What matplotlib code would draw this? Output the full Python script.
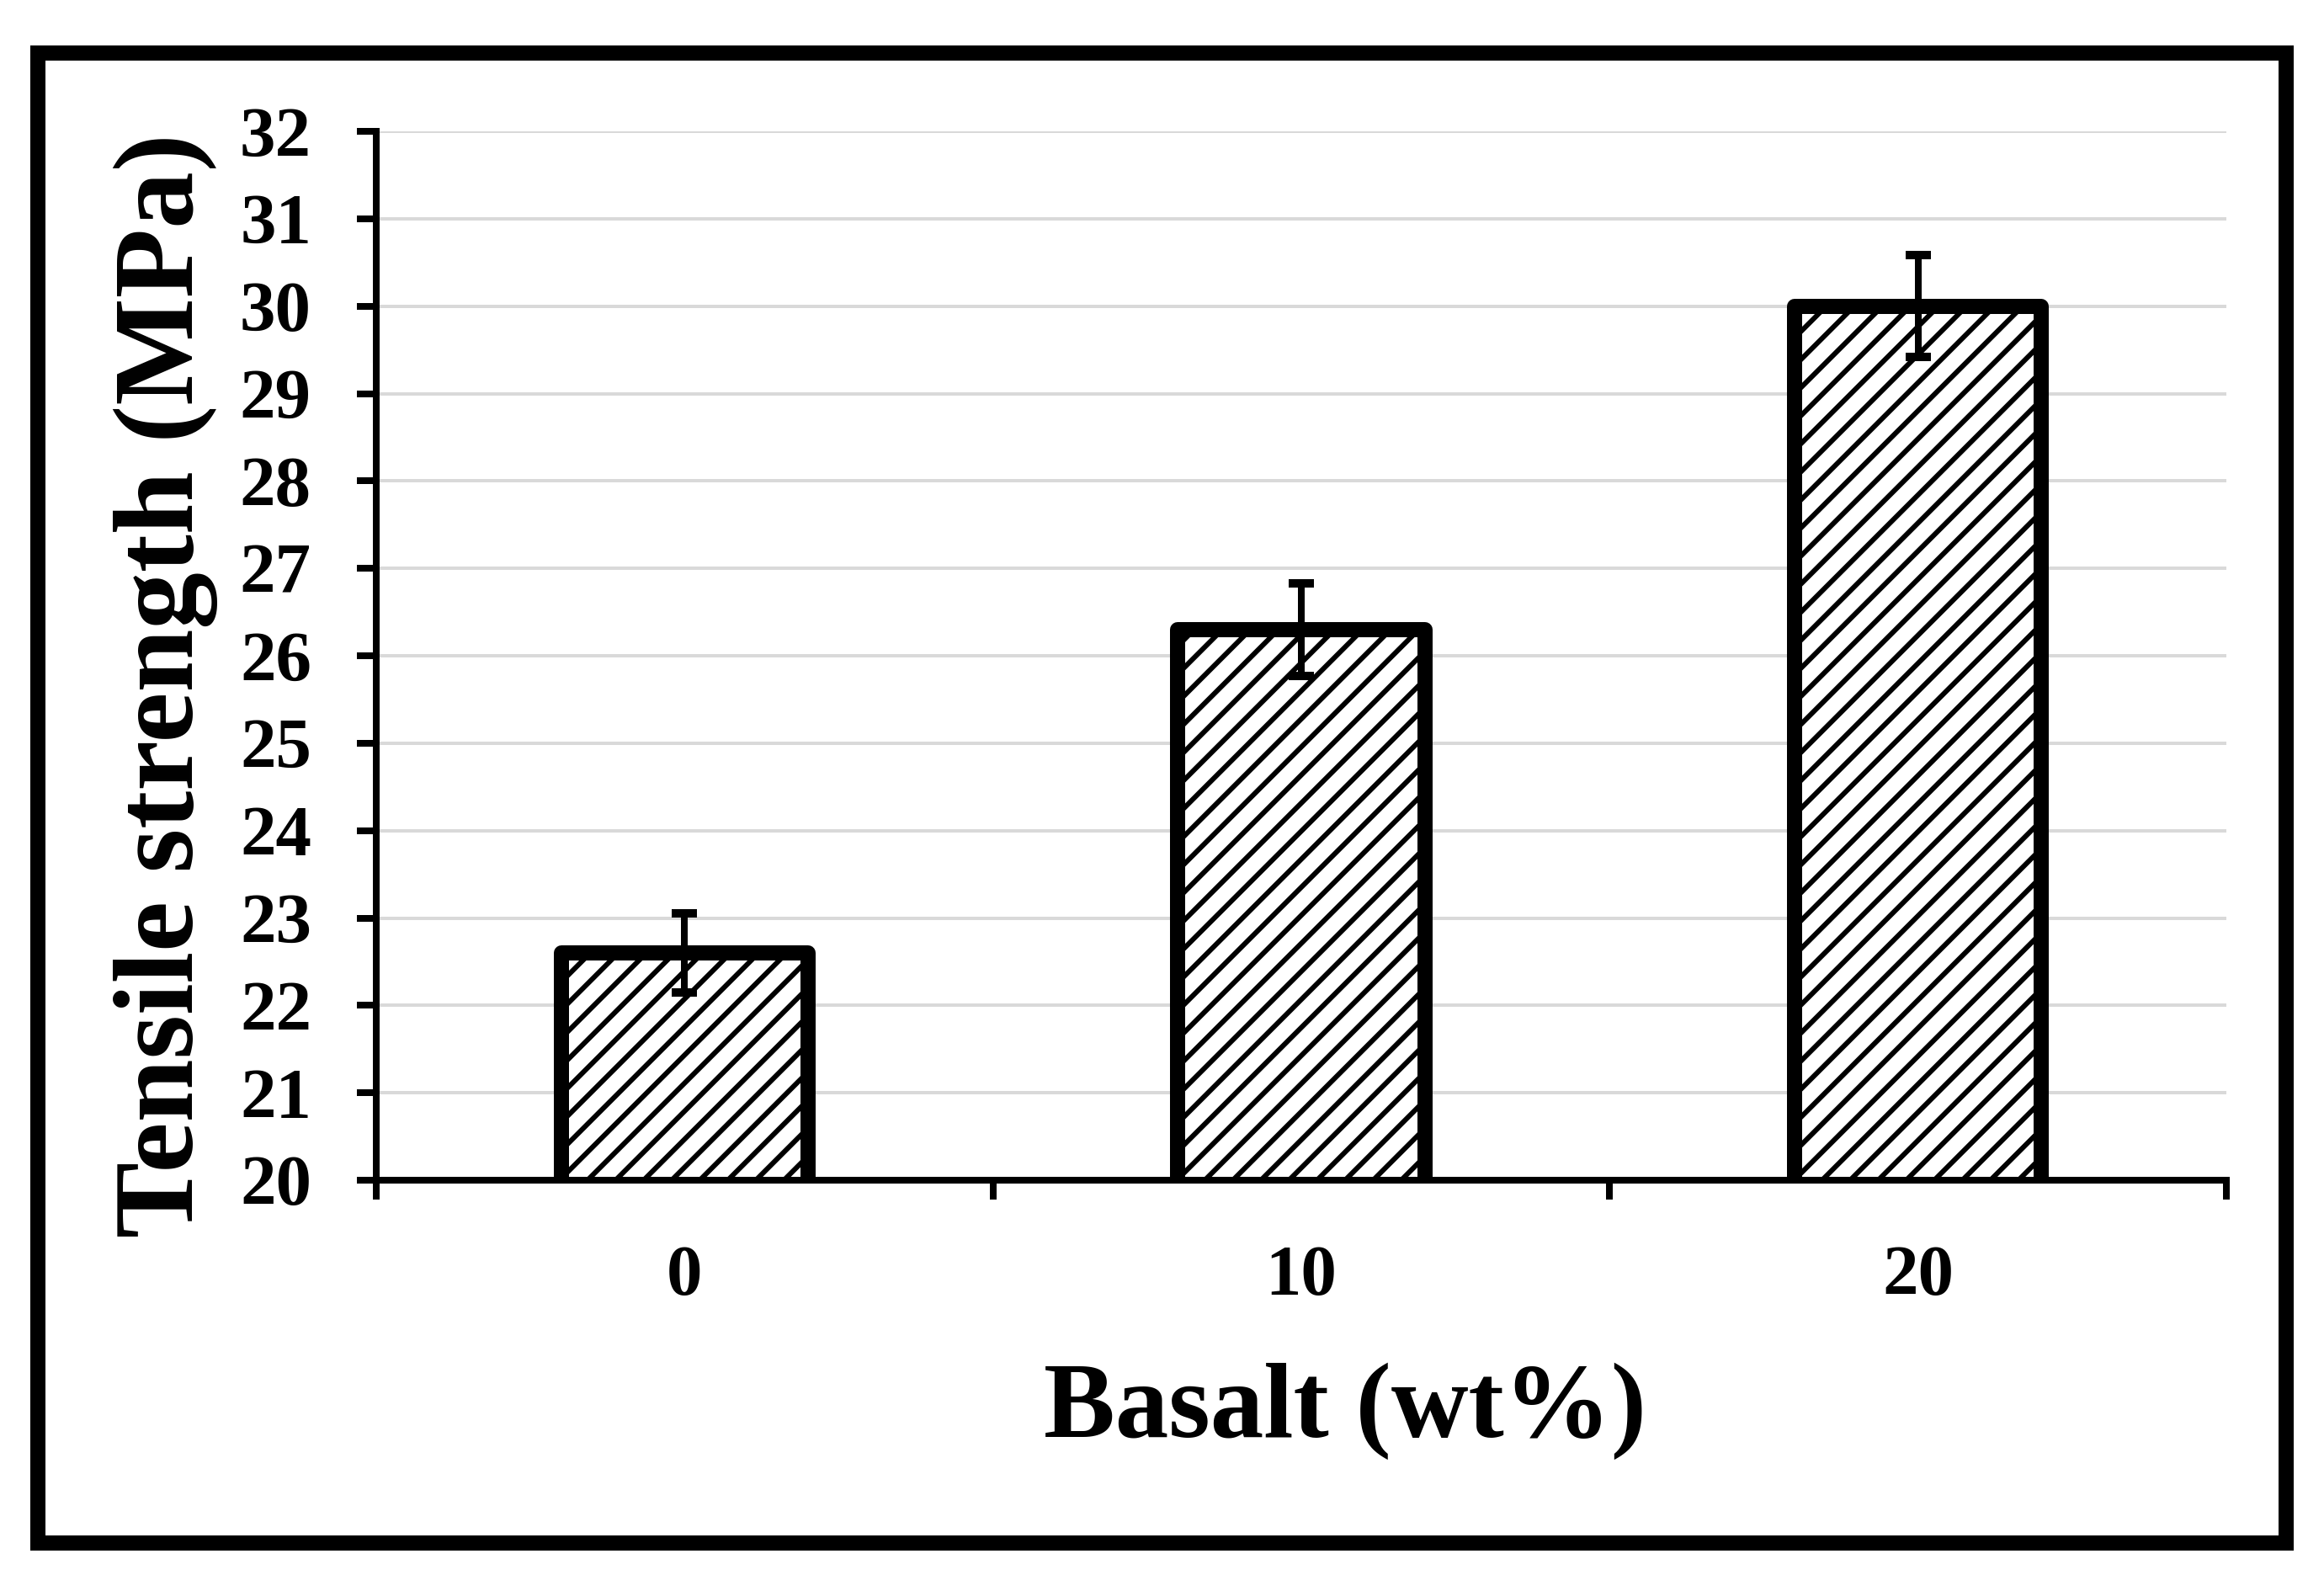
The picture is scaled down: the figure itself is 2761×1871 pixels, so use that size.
import numpy as np
import matplotlib.pyplot as plt
from matplotlib.patches import Rectangle

# data
basalt = ['0', '10', '20']
tensile = [22.6, 26.3, 30.0]
tensile_err = [0.45, 0.53, 0.58]
yticks = list(range(20, 33))

DPI = 100
W, H = 2761, 1871


def px(p):
    # pixels -> points
    return p * 72.0 / DPI


plt.rcParams['font.family'] = ['Liberation Serif', 'DejaVu Serif']
plt.rcParams['font.weight'] = 'bold'
plt.rcParams['hatch.linewidth'] = px(6)

fig = plt.figure(figsize=(W / DPI, H / DPI), dpi=DPI)
ax = fig.add_axes([447 / W, 1 - 1402 / H, (2645 - 447) / W, (1402 - 156) / H])

x = np.arange(len(basalt))
bars = ax.bar(x, tensile, width=0.4, color='white', edgecolor='black',
              linewidth=px(18), hatch='/', zorder=2)
for b in bars:
    b.set_joinstyle('round')
ax.errorbar(x, tensile, yerr=tensile_err, fmt='none', ecolor='black',
            elinewidth=px(8), capsize=px(15), capthick=px(10), zorder=3)

ax.set_xlim(-0.5, 2.5)
ax.set_ylim(20, 32)
ax.set_yticks(yticks)
ax.set_xticks(x)
ax.set_xticklabels(basalt)
ax.set_xticks(np.arange(-0.5, 3, 1), minor=True)

ax.grid(axis='y', color='#d9d9d9', linewidth=px(4), zorder=0)
ax.set_axisbelow(True)

for s in ['top', 'right']:
    ax.spines[s].set_visible(False)
for s in ['left', 'bottom']:
    ax.spines[s].set_linewidth(px(8))
    ax.spines[s].set_color('black')

ax.tick_params(axis='y', direction='out', length=px(23), width=px(8), pad=px(54), labelsize=px(85))
ax.tick_params(axis='x', which='major', length=0, pad=px(77), labelsize=px(85))
ax.tick_params(axis='x', which='minor', direction='out', length=px(23), width=px(8))

fig.text(197 / W, 1 - 814 / H, 'Tensile strength (MPa)', rotation=90, ha='center', va='center',
         fontsize=px(135), fontweight='bold')
fig.text(1598 / W, 1 - 1707 / H, 'Basalt (wt%)', ha='center', va='baseline',
         fontsize=px(127), fontweight='bold')

# outer frame around the whole picture
fig.patches.append(Rectangle((45 / W, 1 - 1833 / H), (2716 - 45) / W, (1833 - 63) / H,
                             transform=fig.transFigure, fill=False, edgecolor='black',
                             linewidth=px(18), joinstyle='miter'))

fig.savefig('out.png', dpi=DPI, facecolor='white')
